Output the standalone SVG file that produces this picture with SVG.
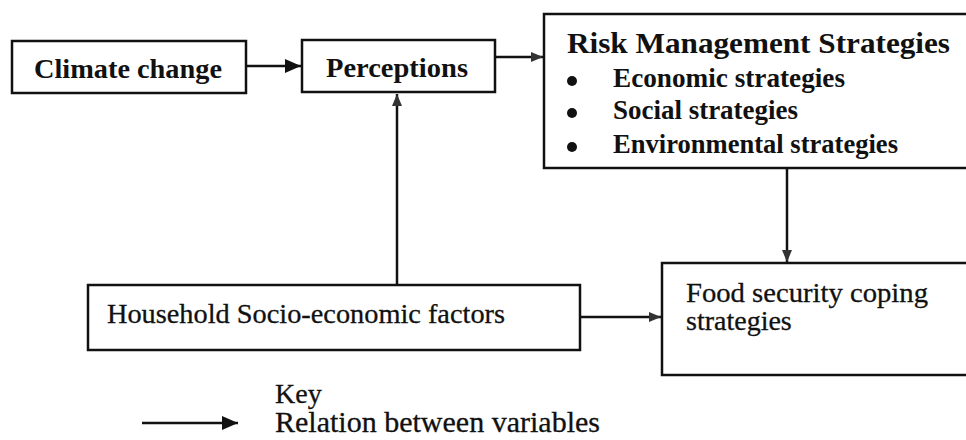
<svg xmlns="http://www.w3.org/2000/svg" width="966" height="440" viewBox="0 0 966 440">
<defs>
<style>
.box{fill:#fff;stroke:#111;stroke-width:2.5}
.con{fill:none;stroke:#111;stroke-width:2.5}
.b{font-family:"Liberation Serif","Times New Roman",serif;font-weight:bold;fill:#111}
.r{font-family:"Liberation Serif","Times New Roman",serif;fill:#111;stroke:#111;stroke-width:0.3}
</style>
<marker id="ah" markerUnits="userSpaceOnUse" markerWidth="16" markerHeight="14" refX="16" refY="7" orient="auto">
<path d="M0,0 L16,7 L0,14 z" fill="#111"/>
</marker>
<marker id="ahs" markerUnits="userSpaceOnUse" markerWidth="12" markerHeight="10" refX="12" refY="5" orient="auto">
<path d="M0,0 L12,5 L0,10 z" fill="#333"/>
</marker>
</defs>
<rect width="966" height="440" fill="#fff"/>
<g id="connectors">
<line class="con" x1="246" y1="66" x2="301" y2="66" marker-end="url(#ah)"/>
<line class="con" x1="495" y1="57" x2="543" y2="57" marker-end="url(#ahs)"/>
<line class="con" x1="397" y1="285" x2="397" y2="94" marker-end="url(#ahs)"/>
<line class="con" x1="787" y1="168" x2="787" y2="262" marker-end="url(#ahs)"/>
<line class="con" x1="580" y1="317" x2="661" y2="317" marker-end="url(#ahs)"/>
</g>
<g id="climate">
<rect class="box" x="12" y="41" width="234" height="52"/>
<text class="b" x="34" y="78" font-size="27" textLength="188" lengthAdjust="spacingAndGlyphs">Climate change</text>
</g>
<g id="perceptions">
<rect class="box" x="302" y="40" width="193" height="52"/>
<text class="b" x="326" y="77" font-size="27" textLength="142" lengthAdjust="spacingAndGlyphs">Perceptions</text>
</g>
<g id="risk">
<rect class="box" x="544" y="14" width="426" height="154"/>
<text class="b" x="567" y="53" font-size="30" textLength="383" lengthAdjust="spacingAndGlyphs">Risk Management Strategies</text>
<circle cx="572" cy="81" r="5" fill="#111"/>
<circle cx="572" cy="113" r="5" fill="#111"/>
<circle cx="572" cy="147" r="5" fill="#111"/>
<text class="b" x="613" y="87" font-size="27" textLength="232" lengthAdjust="spacingAndGlyphs">Economic strategies</text>
<text class="b" x="613" y="119" font-size="27" textLength="185" lengthAdjust="spacingAndGlyphs">Social strategies</text>
<text class="b" x="613" y="153" font-size="27" textLength="285" lengthAdjust="spacingAndGlyphs">Environmental strategies</text>
</g>
<g id="household">
<rect class="box" x="88" y="285" width="492" height="65"/>
<text class="r" x="107" y="323" font-size="28" textLength="398" lengthAdjust="spacingAndGlyphs">Household Socio-economic factors</text>
</g>
<g id="food">
<rect class="box" x="662" y="263" width="308" height="112"/>
<text class="r" x="686" y="302" font-size="28" textLength="242" lengthAdjust="spacingAndGlyphs">Food security coping</text>
<text class="r" x="686" y="330" font-size="28">strategies</text>
</g>
<g id="legend">
<line class="con" x1="142" y1="423" x2="238" y2="423" marker-end="url(#ah)"/>
<text class="r" x="275" y="403" font-size="28">Key</text>
<text class="r" x="275" y="432" font-size="29" textLength="325" lengthAdjust="spacingAndGlyphs">Relation between variables</text>
</g>
</svg>
